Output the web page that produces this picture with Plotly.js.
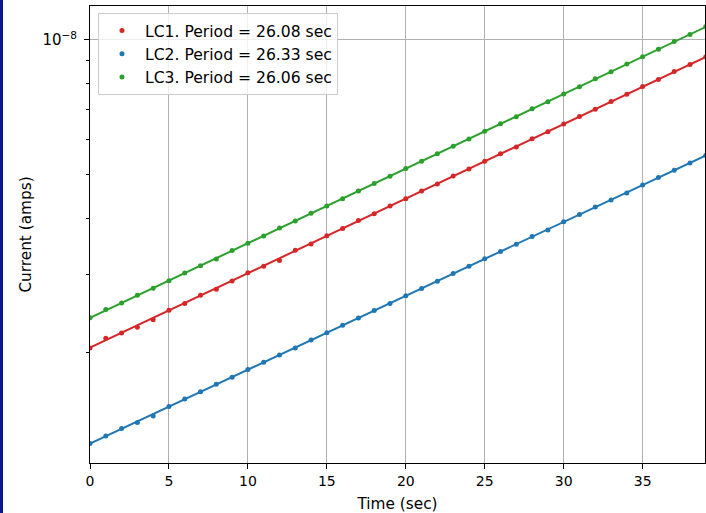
<!DOCTYPE html>
<html>
<head>
<meta charset="utf-8">
<script src="https://cdn.plot.ly/plotly-3.0.1.min.js"></script>
<style>
html,body{margin:0;padding:0;background:#fff;}
#wrap{position:relative;width:706px;height:513px;}
#chart{width:706px;height:513px;}
#edge{position:absolute;left:0;top:0;width:3px;height:513px;background:#0b168a;}
</style>
</head>
<body>
<div id="wrap"><div id="chart"></div><div id="edge"></div></div>
<script>
// Time samples (sec)
const time = [0,1,2,3,4,5,6,7,8,9,10,11,12,13,14,15,16,17,18,19,20,21,22,23,24,25,26,27,28,29,30,31,32,33,34,35,36,37,38,39];
// Measured currents in nA
const lc1 = [2.05,2.157,2.215,2.282,2.372,2.49,2.58,2.69,2.775,2.895,3.02,3.125,3.215,3.39,3.50,3.655,3.79,3.95,4.09,4.26,4.42,4.60,4.77,4.97,5.15,5.36,5.57,5.77,6.02,6.24,6.49,6.75,7.00,7.29,7.56,7.87,8.16,8.50,8.81,9.17];
const lc2 = [1.255,1.305,1.355,1.398,1.445,1.518,1.578,1.638,1.702,1.765,1.837,1.905,1.978,2.052,2.138,2.218,2.306,2.392,2.488,2.58,2.684,2.787,2.893,3.01,3.122,3.245,3.37,3.498,3.64,3.765,3.925,4.075,4.235,4.39,4.55,4.745,4.93,5.12,5.31,5.525];
const lc3 = [2.395,2.50,2.585,2.69,2.79,2.90,3.015,3.13,3.24,3.385,3.515,3.65,3.80,3.94,4.10,4.26,4.42,4.60,4.78,4.96,5.16,5.36,5.57,5.79,6.01,6.25,6.50,6.74,7.02,7.28,7.57,7.86,8.19,8.49,8.84,9.17,9.53,9.92,10.28,10.71];
// Exponential fit endpoints (nA)
const fitTime = [0, 39];
const fit1 = [2.054, 9.163];
const fit2 = [1.255, 5.521];
const fit3 = [2.395, 10.698];
const labels = ["LC1. Period = 26.08 sec", "LC2. Period = 26.33 sec", "LC3. Period = 26.06 sec"];
const colors = ["#d62728", "#1f77b4", "#2ca02c"];

const nA = v => v.map(x => x * 1e-9);
const series = [lc1, lc2, lc3];
const fits = [fit1, fit2, fit3];
const traces = [];
series.forEach((s, i) => {
  traces.push({x: time, y: nA(s), type: 'scatter', mode: 'markers', name: labels[i],
    marker: {color: colors[i], size: 5}, showlegend: true});
});
fits.forEach((f, i) => {
  traces.push({x: fitTime, y: nA(f), type: 'scatter', mode: 'lines',
    line: {color: colors[i], width: 2}, showlegend: false, hoverinfo: 'skip'});
});

const tickFont = {family: 'DejaVu Sans, sans-serif', size: 14, color: '#000'};
const titleFont = {family: 'DejaVu Sans, sans-serif', size: 15.3, color: '#000'};
const layout = {
  width: 706, height: 513,
  margin: {l: 90, r: 1, t: 6, b: 50, pad: 0},
  paper_bgcolor: '#fff', plot_bgcolor: '#fff',
  font: tickFont,
  showlegend: true,
  legend: {x: 0.013, y: 0.985, xanchor: 'left', yanchor: 'top',
    bgcolor: 'rgba(255,255,255,0.8)', bordercolor: '#cccccc', borderwidth: 1,
    itemwidth: 36,
    font: {family: 'DejaVu Sans, sans-serif', size: 15.6, color: '#000'}, tracegroupgap: 0},
  xaxis: {
    range: [0, 38.95], tickvals: [0,5,10,15,20,25,30,35],
    ticks: 'outside', ticklen: 5, tickwidth: 1, tickcolor: '#000',
    tickfont: tickFont,
    showline: true, mirror: true, linecolor: '#000', linewidth: 1,
    showgrid: true, gridcolor: '#b0b0b0', gridwidth: 1, zeroline: false,
    title: {text: 'Time (sec)', font: titleFont, standoff: 11},
    automargin: false
  },
  yaxis: {
    type: 'log', range: [-8.9449, -7.9241],
    tickvals: [1e-8], ticktext: ['10<sup>\u22128</sup>'],
    ticks: 'outside', ticklen: 5, tickwidth: 1, tickcolor: '#000',
    tickfont: {family: 'DejaVu Sans, sans-serif', size: 15, color: '#000'},
    ticklabelstandoff: 4,
    minor: {tickvals: [2e-9,3e-9,4e-9,5e-9,6e-9,7e-9,8e-9,9e-9], ticks: 'outside', ticklen: 3, tickcolor: '#000', showgrid: false},
    showline: true, mirror: true, linecolor: '#000', linewidth: 1,
    showgrid: true, gridcolor: '#b0b0b0', gridwidth: 1, zeroline: false,
    title: {text: 'Current (amps)', font: titleFont, standoff: 7},
    automargin: false
  }
};
Plotly.newPlot('chart', traces, layout, {displayModeBar: false, staticPlot: true});
</script>
</body>
</html>
